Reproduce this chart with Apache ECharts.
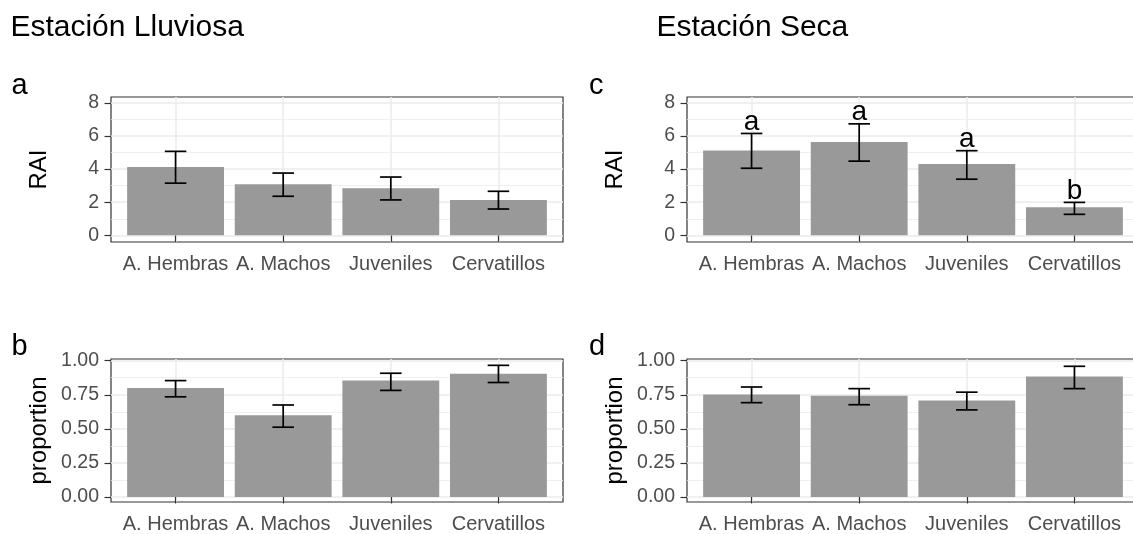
<!DOCTYPE html>
<html><head><meta charset="utf-8">
<script src="https://cdn.jsdelivr.net/npm/echarts@6/dist/echarts.min.js"></script>
<style>html,body{margin:0;padding:0;background:#fff}#c{width:1133px;height:534px}</style>
</head><body><div id="c"></div>
<script>
// ---- data ----
const categories = ['A. Hembras', 'A. Machos', 'Juveniles', 'Cervatillos'];
const rainyRAI = [4.13, 3.09, 2.85, 2.14];
const rainyRAILow = [3.15, 2.36, 2.14, 1.59];
const rainyRAIHigh = [5.07, 3.76, 3.52, 2.66];
const dryRAI = [5.12, 5.64, 4.30, 1.69];
const dryRAILow = [4.05, 4.48, 3.39, 1.27];
const dryRAIHigh = [6.15, 6.73, 5.11, 1.99];
const dryRAIGroups = ['a', 'a', 'a', 'b'];
const rainyProp = [0.80, 0.60, 0.855, 0.905];
const rainyPropLow = [0.735, 0.512, 0.782, 0.840];
const rainyPropHigh = [0.854, 0.675, 0.908, 0.966];
const dryProp = [0.752, 0.742, 0.708, 0.884];
const dryPropLow = [0.692, 0.677, 0.639, 0.795];
const dryPropHigh = [0.807, 0.795, 0.769, 0.959];
const raiTicks = [0, 2, 4, 6, 8];
const raiMinorTicks = [1, 3, 5, 7];
const propTicks = [0, 0.25, 0.5, 0.75, 1];
const propMinorTicks = [0.125, 0.375, 0.625, 0.875];
const propTickLabels = ['0.00', '0.25', '0.50', '0.75', '1.00'];
const columnTitles = ['Estación Lluviosa', 'Estación Seca'];
const panelLetters = ['a', 'b', 'c', 'd'];

// ---- layout / style ----
const FONT = 'Liberation Sans, Arial, sans-serif';
const catPos = categories.map((c, i) => i + 1);
const panels = [
  {left: 111, top: 97, height: 145, vals: rainyRAI, lo: rainyRAILow, hi: rainyRAIHigh, y: 'rai', name: 'RAI'},
  {left: 111, top: 359, height: 143, vals: rainyProp, lo: rainyPropLow, hi: rainyPropHigh, y: 'prop', name: 'proportion'},
  {left: 687, top: 97, height: 145, vals: dryRAI, lo: dryRAILow, hi: dryRAIHigh, y: 'rai', name: 'RAI', groups: dryRAIGroups},
  {left: 687, top: 359, height: 143, vals: dryProp, lo: dryPropLow, hi: dryPropHigh, y: 'prop', name: 'proportion'}
];
const yRange = {rai: [-0.4, 8.35], prop: [-0.037, 1.0125]};

const grid = [], xAxis = [], yAxis = [], series = [];
panels.forEach((p, i) => {
  grid.push({left: p.left, top: p.top, width: 452, height: p.height, show: true,
    outerBoundsMode: 'none', containLabel: false,
    borderColor: '#333333', borderWidth: 1.2, backgroundColor: 'transparent'});
  xAxis.push({type: 'value', gridIndex: i, min: 0.4, max: 4.6,
    axisLine: {show: false},
    axisTick: {show: true, customValues: catPos, length: 6.5, lineStyle: {color: '#333333', width: 1.2}},
    axisLabel: {customValues: catPos, formatter: v => categories[Math.round(v) - 1],
      color: '#4D4D4D', fontSize: 20, fontFamily: FONT, margin: 12, lineHeight: 20},
    splitLine: {show: true, lineStyle: {color: '#EBEBEB', width: 1.5}}
  });
  const ticks = p.y === 'rai' ? raiTicks : propTicks;
  const minor = p.y === 'rai' ? raiMinorTicks : propMinorTicks;
  yAxis.push({type: 'value', gridIndex: i, min: yRange[p.y][0], max: yRange[p.y][1],
    name: p.name, nameLocation: 'middle', nameRotate: 90, nameGap: 60,
    nameTextStyle: {fontSize: 24, color: '#000', fontFamily: FONT},
    axisLine: {show: false},
    axisTick: {show: true, customValues: ticks, length: 6.5, lineStyle: {color: '#333333', width: 1.2}},
    axisLabel: {customValues: ticks, color: '#4D4D4D', fontSize: 19.5, fontFamily: FONT, margin: 12,
      formatter: v => p.y === 'rai' ? String(Math.round(v)) : propTickLabels[Math.round(v * 4)]},
    splitLine: {show: true, lineStyle: {color: '#EBEBEB', width: 1.5}}
  });
  yAxis.push({type: 'value', gridIndex: i, min: yRange[p.y][0], max: yRange[p.y][1], position: 'left',
    axisLine: {show: false},
    axisTick: {show: false, customValues: minor},
    axisLabel: {show: false, customValues: minor},
    splitLine: {show: true, lineStyle: {color: '#EBEBEB', width: 0.8}}
  });
  series.push({type: 'bar', xAxisIndex: i, yAxisIndex: 2 * i, barWidth: '90%',
    itemStyle: {color: '#999999'}, silent: true, z: 2,
    data: p.vals.map((v, k) => [catPos[k], v])});
  series.push({type: 'custom', xAxisIndex: i, yAxisIndex: 2 * i, z: 3, silent: true,
    data: p.lo.map((v, k) => [catPos[k], v, p.hi[k]]),
    renderItem: (params, api) => {
      const x = api.value(0);
      const a = api.coord([x, api.value(1)]);
      const b = api.coord([x, api.value(2)]);
      const half = api.size([0.2, 0])[0] / 2;
      const st = {stroke: '#000', lineWidth: 1.7};
      const children = [
        {type: 'line', shape: {x1: a[0], y1: a[1], x2: b[0], y2: b[1]}, style: st},
        {type: 'line', shape: {x1: a[0] - half, y1: a[1], x2: a[0] + half, y2: a[1]}, style: st},
        {type: 'line', shape: {x1: b[0] - half, y1: b[1], x2: b[0] + half, y2: b[1]}, style: st}
      ];
      if (p.groups) {
        children.push({type: 'text', style: {text: p.groups[params.dataIndex], x: b[0], y: b[1] - 11.2,
          align: 'center', verticalAlign: 'middle', font: '28px ' + FONT, fill: '#000'}});
      }
      return {type: 'group', children};
    }
  });
});

const graphic = [
  {type: 'text', style: {text: columnTitles[0], x: 10.4, y: 28, verticalAlign: 'middle', font: '30px ' + FONT, fill: '#000'}},
  {type: 'text', style: {text: columnTitles[1], x: 656.5, y: 28, verticalAlign: 'middle', font: '30px ' + FONT, fill: '#000'}},
  {type: 'text', style: {text: panelLetters[0], x: 11.5, y: 85.5, verticalAlign: 'middle', font: '29px ' + FONT, fill: '#000'}},
  {type: 'text', style: {text: panelLetters[1], x: 11.5, y: 347, verticalAlign: 'middle', font: '29px ' + FONT, fill: '#000'}},
  {type: 'text', style: {text: panelLetters[2], x: 589, y: 85.5, verticalAlign: 'middle', font: '29px ' + FONT, fill: '#000'}},
  {type: 'text', style: {text: panelLetters[3], x: 589, y: 347, verticalAlign: 'middle', font: '29px ' + FONT, fill: '#000'}}
];

const chart = echarts.init(document.getElementById('c'), null, {renderer: 'canvas'});
chart.setOption({animation: false, backgroundColor: '#fff', grid, xAxis, yAxis, series, graphic});
</script></body></html>
